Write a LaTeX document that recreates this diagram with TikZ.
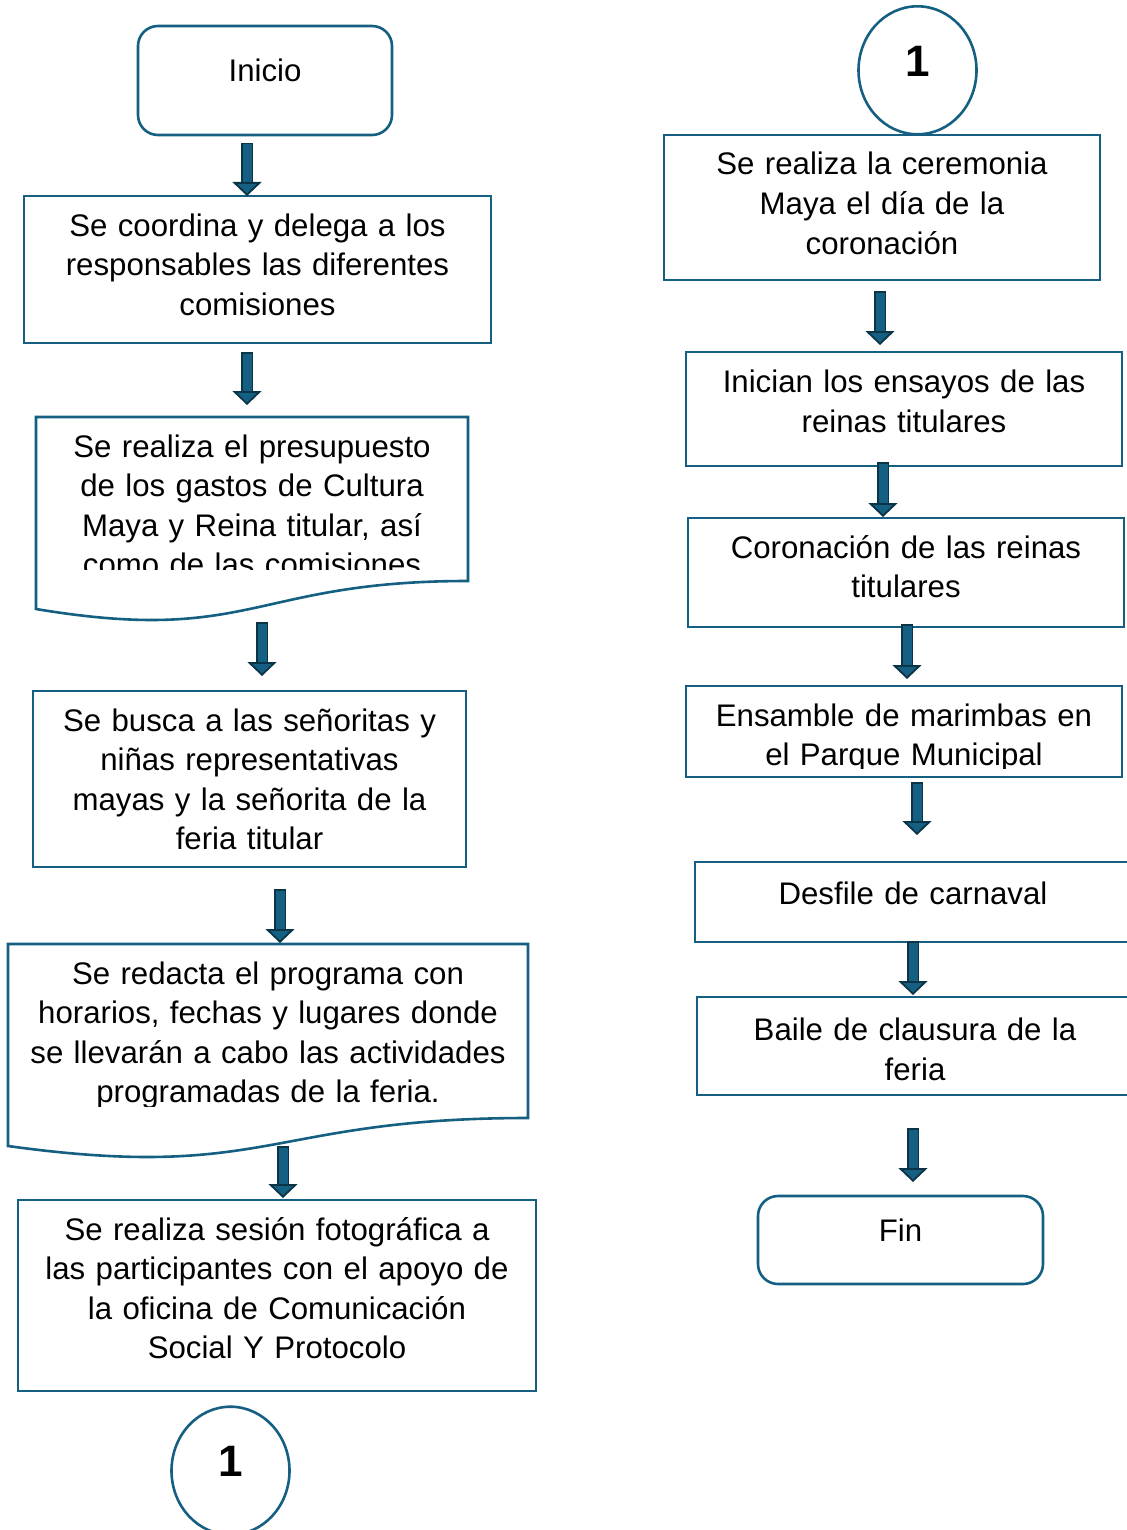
\documentclass[tikz,border=0pt]{standalone}
\usepackage{fontspec}
\setmainfont{Liberation Sans}
\usetikzlibrary{positioning, arrows.meta, shapes.geometric, calc}
\definecolor{Borde}{HTML}{156082}
\definecolor{FlechaBorde}{HTML}{0B3447}
\tikzset{
  texto/.style     = {align=center, inner sep=0pt, outer sep=0pt, text height=12pt,
                      font=\fontsize{15.6pt}{19.8pt}\selectfont},
  caja/.style      = {rectangle, draw=Borde, line width=1.3pt, texto},
  inicial/.style   = {caja, rounded corners=10pt},
  documento/.style = {rectangle, texto},
  tam/.style 2 args= {minimum width=#1, text width=#1, minimum height=#2},
  conector/.style  = {ellipse, draw=Borde, line width=1.3pt, inner sep=0pt, outer sep=0pt,
                      minimum width=59pt, minimum height=64pt, text height=16pt, text depth=10pt,
                      font=\fontsize{22pt}{26pt}\selectfont\bfseries},
  borde/.style     = {draw=Borde, line width=1.3pt},
  flecha/.style    = {draw=FlechaBorde, line width=0.9pt, double=Borde, double distance=4.5pt,
                      line cap=rect,
                      -{Triangle[length=7pt, width=14.5pt, fill=Borde, line width=0.9pt]}},
}
% contorno de la forma "documento" (borde inferior ondulado)
\newcommand{\bordedoc}[1]{%
  \draw[borde] (#1.south east) -- (#1.north east) -- (#1.north west)
    -- ([yshift=-14pt]#1.south west)
    .. controls ([yshift=-32pt]#1.south) and (#1.south) .. (#1.south east) -- cycle;}

\begin{document}
\begin{tikzpicture}[x=0.5pt, y=-0.5pt]
  \useasboundingbox[fill=white] (0,0) rectangle (1126,1530);

  % columna izquierda
  \node[inicial, tam={127pt}{54.5pt}, text depth=10.8pt]   (inicio)   at (265,80.5)   {Inicio};
  \node[caja, tam={233.5pt}{73.5pt}, text depth=45.5pt]    (coordina) at (257.5,269.5)
        {Se coordina y delega a los\\responsables las diferentes\\comisiones};
  \begin{scope}
    \clip (36,417) rectangle (468,569);
    \node[documento, tam={216pt}{82pt}, text depth=54pt] (presupuesto) at (252,499)
          {Se realiza el presupuesto\\de los gastos de Cultura\\Maya y Reina titular, así\\como de las comisiones};
  \end{scope}
  \bordedoc{presupuesto}
  \node[caja, tam={216.5pt}{88pt}, text depth=60pt]        (busca)    at (249.5,779)
        {Se busca a las señoritas y\\niñas representativas\\mayas y la señorita de la\\feria titular};
  \begin{scope}
    \clip (8,944) rectangle (528,1106);
    \node[documento, tam={260pt}{87pt}, text depth=59pt] (redacta) at (268,1031)
          {Se redacta el programa con\\horarios, fechas y lugares donde\\se llevarán a cabo las actividades\\programadas de la feria.};
  \end{scope}
  \bordedoc{redacta}
  \node[caja, tam={259pt}{95.5pt}, text depth=67.5pt]      (sesion)   at (277,1295.5)
        {Se realiza sesión fotográfica a\\las participantes con el apoyo de\\la oficina de Comunicación\\Social Y Protocolo};
  \node[conector] (conexionA) at (230.5,1470.7) {1};

  % columna derecha
  \node[conector] (conexionB) at (917.5,70.3) {1};
  \node[caja, tam={218pt}{72.5pt}, text depth=44.5pt]      (ceremonia) at (882,207.5)
        {Se realiza la ceremonia\\Maya el día de la\\coronación};
  \node[caja, tam={218pt}{57pt}, text depth=28.5pt]        (ensayos)   at (904,409)
        {Inician los ensayos de las\\reinas titulares};
  \node[caja, tam={218pt}{54.5pt}, text depth=26.5pt]      (coronacion) at (906,572.5)
        {Coronación de las reinas\\titulares};
  \begin{scope}
    \clip (686,686) rectangle (1122,768);
    \node[documento, tam={218pt}{45.5pt}, text depth=17.5pt] (ensamble) at (904,731.5)
          {Ensamble de marimbas en\\el Parque Municipal};
  \end{scope}
  \draw[borde] (ensamble.south west) rectangle (ensamble.north east);
  \node[caja, tam={218pt}{40pt}, text depth=9.7pt]         (desfile)  at (913,902)    {Desfile de carnaval};
  \node[caja, tam={218pt}{49pt}, text depth=17.5pt]        (baile)    at (915,1046)
        {Baile de clausura de la\\feria};
  \node[inicial, tam={142.5pt}{44pt}, text depth=10.8pt]   (fin)      at (900.5,1240) {Fin};

  \draw[flecha] ([xshift=-9pt,yshift=-7pt]inicio.south)          -- ([xshift=-5.25pt]coordina.north);
  \draw[flecha] ([xshift=-5.25pt,yshift=-7.5pt]coordina.south)   -- ([xshift=-2.5pt,yshift=6pt]presupuesto.north);
  \draw[flecha] ([xshift=5pt,yshift=-23.5pt]presupuesto.south)   -- ([xshift=6.25pt,yshift=7.5pt]busca.north);
  \draw[flecha] ([xshift=15.25pt,yshift=-14pt]busca.south)       -- ([xshift=6pt,yshift=0.5pt]redacta.north);
  \draw[flecha] ([xshift=7.5pt,yshift=-17pt]redacta.south)       -- ([xshift=3pt,yshift=1pt]sesion.north);

  \draw[flecha] ([xshift=-1pt,yshift=-8.5pt]ceremonia.south)     -- ([xshift=-12pt,yshift=3.5pt]ensayos.north);
  \draw[flecha] ([xshift=-10.5pt,yshift=-1pt]ensayos.south)      -- ([xshift=-11.5pt,yshift=0.5pt]coronacion.north);
  \draw[flecha] ([xshift=0.5pt,yshift=-1.5pt]coronacion.south)   -- ([xshift=1.5pt,yshift=3.5pt]ensamble.north);
  \draw[flecha] ([xshift=6.5pt,yshift=-5.5pt]ensamble.south)     -- ([xshift=2pt,yshift=13.5pt]desfile.north);
  \draw[flecha] ([yshift=-2.5pt]desfile.south)                   -- ([xshift=-1pt,yshift=1pt]baile.north);
  \draw[flecha] ([xshift=-1pt,yshift=-19.5pt]baile.south)        -- ([xshift=6.25pt,yshift=7pt]fin.north);
\end{tikzpicture}
\end{document}
